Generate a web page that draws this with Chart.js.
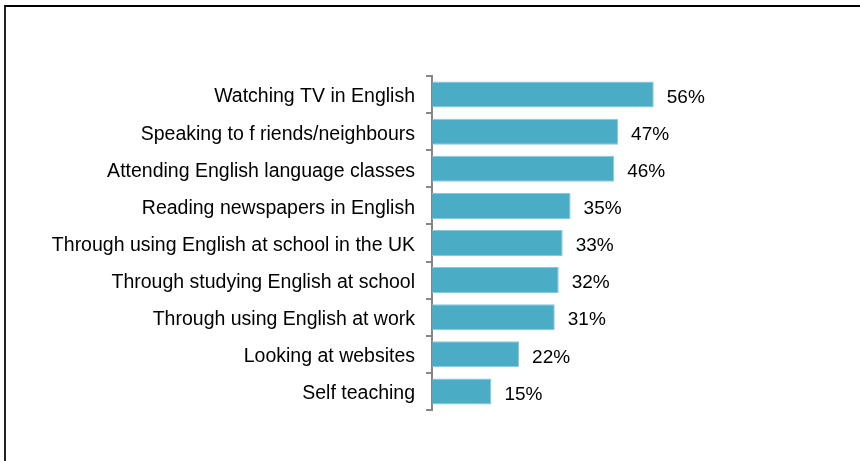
<!DOCTYPE html>
<html>
<head>
<meta charset="utf-8">
<script src="https://cdn.jsdelivr.net/npm/chart.js@4.4.1/dist/chart.umd.min.js"></script>
<style>
  html, body { margin: 0; padding: 0; background: #fff; }
  #wrap { position: relative; width: 860px; height: 461px; overflow: hidden; }
  #frame { position: absolute; left: 4px; top: 5px; right: -10px; bottom: -10px;
           border-top: 2px solid #000; border-left: 2px solid #222; }
  canvas { position: absolute; left: 0; top: 0; }
</style>
</head>
<body>
<div id="wrap">
  <div id="frame"></div>
  <canvas id="c" width="860" height="461"></canvas>
</div>
<script>
const categories = [
  "Watching TV in English",
  "Speaking to f riends/neighbours",
  "Attending English language classes",
  "Reading newspapers in English",
  "Through using English at school in the UK",
  "Through studying English at school",
  "Through using English at work",
  "Looking at websites",
  "Self teaching"
];
const values = [56, 47, 46, 35, 33, 32, 31, 22, 15];
const valueLabels = ["56%", "47%", "46%", "35%", "33%", "32%", "31%", "22%", "15%"];

const FONT = "'Liberation Sans', Arial, sans-serif";
const AXIS_X = 432;

const valueLabelPlugin = {
  id: 'valueLabels',
  afterDatasetsDraw(chart) {
    const ctx = chart.ctx;
    const meta = chart.getDatasetMeta(0);
    ctx.save();
    ctx.font = "19px " + FONT;
    ctx.fillStyle = "#000";
    ctx.textAlign = "left";
    ctx.textBaseline = "middle";
    meta.data.forEach((bar, i) => {
      ctx.fillText(valueLabels[i], bar.x + 13, bar.y + 3);
    });
    ctx.restore();
  }
};

new Chart(document.getElementById('c'), {
  type: 'bar',
  data: {
    labels: categories,
    datasets: [{
      data: values,
      backgroundColor: '#4BACC6',
      borderColor: '#86c9dc',
      borderWidth: 1,
      categoryPercentage: 1,
      barPercentage: 0.7
    }]
  },
  options: {
    indexAxis: 'y',
    responsive: false,
    animation: false,
    layout: { padding: { left: 0, right: 32, top: 76, bottom: 51 } },
    plugins: { legend: { display: false }, tooltip: { enabled: false } },
    scales: {
      x: { display: false, min: 0, max: 100 },
      y: {
        afterFit(scale) { scale.width = AXIS_X; },
        border: { display: true, color: '#868686', width: 2 },
        grid: { drawOnChartArea: false, drawTicks: true, tickLength: 6, color: '#868686', lineWidth: 2, offset: true },
        ticks: { color: '#000', font: { family: FONT, size: 19.5 }, padding: 11, crossAlign: 'near', labelOffset: 2.5 }
      }
    }
  },
  plugins: [valueLabelPlugin]
});
</script>
</body>
</html>
